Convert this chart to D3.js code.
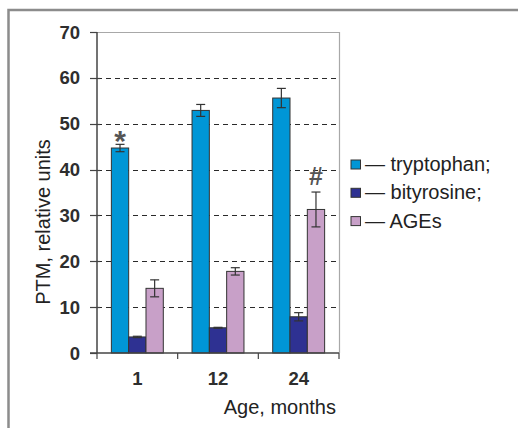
<!DOCTYPE html>
<html>
<head>
<meta charset="utf-8">
<script src="https://cdn.jsdelivr.net/npm/d3@7/dist/d3.min.js"></script>
<style>
  html, body { margin: 0; padding: 0; background: #fff; }
  svg { display: block; font-family: "Liberation Sans", Arial, sans-serif; }
</style>
</head>
<body>
<svg id="chart" width="518" height="428"></svg>
<script>
const categories = ["1", "12", "24"];
const seriesNames = ["tryptophan", "bityrosine", "AGEs"];
const legendLabels = ["— tryptophan;", "— bityrosine;", "— AGEs"];
const tryptophan = [44.7, 52.9, 55.6];
const tryptophanErr = [0.8, 1.3, 2.1];
const bityrosine = [3.5, 5.5, 7.9];
const bityrosineErr = [0.15, 0.1, 0.9];
const AGEs = [14.1, 17.8, 31.3];
const AGEsErr = [1.85, 0.8, 3.8];
const yTicks = [0, 10, 20, 30, 40, 50, 60, 70];
const marks = [{cat: "1", series: "tryptophan", text: "*"}, {cat: "24", series: "AGEs", text: "#"}];

const values = {tryptophan, bityrosine, AGEs};
const errors = {tryptophan: tryptophanErr, bityrosine: bityrosineErr, AGEs: AGEsErr};
const colors = {tryptophan: "#0096d6", bityrosine: "#2e3192", AGEs: "#c8a0c8"};

(function () {
const svg = d3.select("#chart");

// outer frame
svg.append("rect").attr("x", 8.5).attr("y", 10).attr("width", 600).attr("height", 600)
  .attr("fill", "none").attr("stroke", "#8c8c8c").attr("stroke-width", 2.5);

const pLeft = 97, pRight = 339, pTop = 32, pBottom = 353;
const y = d3.scaleLinear().domain([0, 70]).range([pBottom, pTop]);
const x = d3.scaleBand().domain(categories).range([pLeft, pRight]).paddingInner(0).paddingOuter(0);
const xs = d3.scaleBand().domain(seriesNames).range([0, x.bandwidth()]).paddingInner(0).paddingOuter(0.83);

// grid lines
svg.append("g").selectAll("line").data(yTicks.filter(t => t > 0 && t < 70)).join("line")
  .attr("x1", pLeft).attr("x2", pRight)
  .attr("y1", d => Math.round(y(d)) + 0.5).attr("y2", d => Math.round(y(d)) + 0.5)
  .attr("stroke", "#2a2a2a").attr("stroke-width", 1.1).attr("stroke-dasharray", "5,4");

// plot border (top & right)
svg.append("path")
  .attr("d", `M${pLeft},${pTop + 0.5}H${pRight + 0.5}V${pBottom}`)
  .attr("fill", "none").attr("stroke", "#a8a8a8").attr("stroke-width", 1.2);

const rows = (c, i) => seriesNames.map(s => ({s, v: values[s][i], e: errors[s][i]}));

// bars
const groups = svg.append("g").selectAll("g").data(categories).join("g")
  .attr("transform", d => `translate(${x(d)},0)`);

groups.selectAll("rect").data(rows).join("rect")
  .attr("x", d => xs(d.s)).attr("y", d => y(d.v))
  .attr("width", xs.bandwidth()).attr("height", d => y(0) - y(d.v))
  .attr("fill", d => colors[d.s]).attr("stroke", "#333").attr("stroke-width", 1);

// error bars
const eb = groups.selectAll("g.err").data(rows).join("g").attr("class", "err");
eb.append("line")
  .attr("x1", d => xs(d.s) + xs.bandwidth() / 2).attr("x2", d => xs(d.s) + xs.bandwidth() / 2)
  .attr("y1", d => y(d.v + d.e)).attr("y2", d => y(d.v - d.e))
  .attr("stroke", "#333").attr("stroke-width", 1.2);
eb.selectAll("line.cap").data(d => [d.v + d.e, d.v - d.e].map(v => ({s: d.s, v}))).join("line")
  .attr("class", "cap")
  .attr("x1", d => xs(d.s) + xs.bandwidth() / 2 - 4.5).attr("x2", d => xs(d.s) + xs.bandwidth() / 2 + 4.5)
  .attr("y1", d => y(d.v)).attr("y2", d => y(d.v))
  .attr("stroke", "#333").attr("stroke-width", 1.2);

// significance marks
marks.forEach(m => {
  const i = categories.indexOf(m.cat);
  const cx = x(m.cat) + xs(m.series) + xs.bandwidth() / 2;
  const t = values[m.series][i] + errors[m.series][i];
  svg.append("text").attr("x", cx)
    .attr("y", y(t) - (m.text === "*" ? -7 : 7))
    .attr("text-anchor", "middle")
    .attr("font-size", m.text === "*" ? 30 : 25)
    .attr("font-weight", "bold")
    .attr("fill", "#555").text(m.text);
});

// y axis
const yAxis = svg.append("g");
yAxis.append("line").attr("x1", pLeft).attr("x2", pLeft).attr("y1", pTop).attr("y2", pBottom)
  .attr("stroke", "#444").attr("stroke-width", 1.5);
yAxis.selectAll("line.t").data(yTicks).join("line").attr("class", "t")
  .attr("x1", pLeft - 7).attr("x2", d => (d > 0 && d < 70) ? pLeft + 3 : pLeft)
  .attr("y1", d => Math.round(y(d)) + 0.5).attr("y2", d => Math.round(y(d)) + 0.5)
  .attr("stroke", "#444").attr("stroke-width", 1.2);
yAxis.selectAll("text").data(yTicks).join("text")
  .attr("x", 80).attr("y", d => y(d) + 6.5)
  .attr("text-anchor", "end").attr("font-size", 18.5).attr("font-weight", "bold")
  .attr("fill", "#2e2e2e").text(d => d);

// x axis
const xAxis = svg.append("g");
xAxis.append("line").attr("x1", pLeft - 7).attr("x2", pRight).attr("y1", pBottom).attr("y2", pBottom)
  .attr("stroke", "#444").attr("stroke-width", 1.5);
const bounds = categories.map(c => x(c)).concat([pRight]);
xAxis.selectAll("line.t").data(bounds).join("line").attr("class", "t")
  .attr("x1", d => d).attr("x2", d => d).attr("y1", pBottom).attr("y2", pBottom + 6)
  .attr("stroke", "#444").attr("stroke-width", 1.2);
xAxis.selectAll("text").data(categories).join("text")
  .attr("x", d => x(d) + x.bandwidth() / 2).attr("y", 385)
  .attr("text-anchor", "middle").attr("font-size", 18.5).attr("font-weight", "bold")
  .attr("fill", "#2e2e2e").text(d => d);

// axis titles
svg.append("text").attr("x", 336).attr("y", 414).attr("text-anchor", "end")
  .attr("font-size", 20).attr("fill", "#222").text("Age, months");
svg.append("text").attr("transform", "translate(50,222) rotate(-90)")
  .attr("text-anchor", "middle").attr("font-size", 20).attr("fill", "#222")
  .text("PTM, relative units");

// legend
const legend = svg.append("g").selectAll("g").data(seriesNames).join("g")
  .attr("transform", (d, i) => `translate(351,${164.5 + i * 28.3})`);
legend.append("rect").attr("x", 0).attr("y", -4.5).attr("width", 9.5).attr("height", 9)
  .attr("fill", d => colors[d]).attr("stroke", "#333").attr("stroke-width", 1);
legend.append("text").attr("x", 14).attr("y", 6.5).attr("font-size", 20).attr("fill", "#222")
  .text((d, i) => legendLabels[i]);
})();
</script>
</body>
</html>
